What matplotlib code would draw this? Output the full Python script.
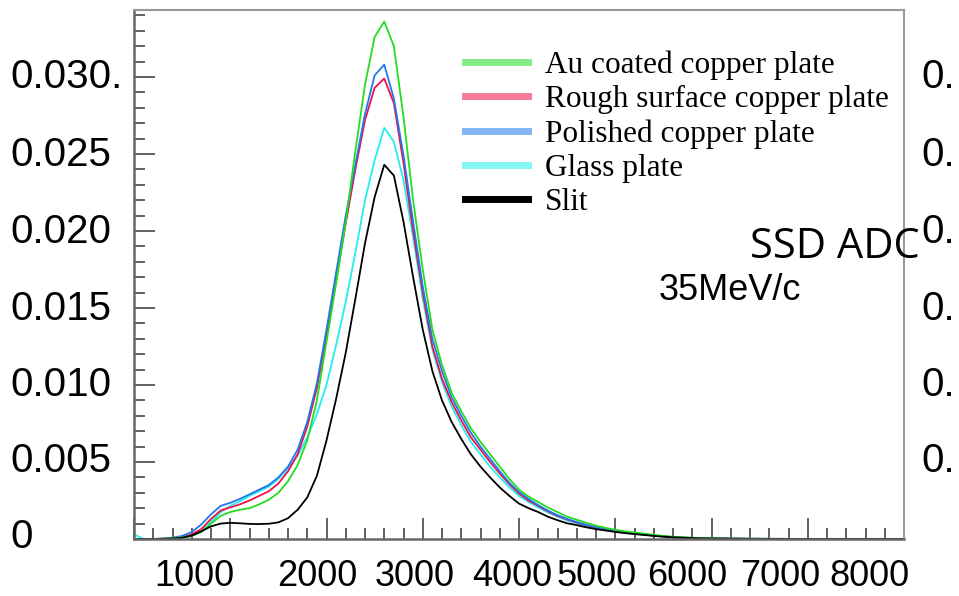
import numpy as np
import matplotlib
matplotlib.use("Agg")
import matplotlib.pyplot as plt
from matplotlib.lines import Line2D
from matplotlib.ticker import MultipleLocator

# SSD ADC spectra, 35 MeV/c, normalised (values in units of 1e-3)
adc = np.arange(0, 8001, 100)

au_coated = [0, 0, 0, 0.02, 0.05, 0.1, 0.2, 0.45, 1.0, 1.5,
             1.75, 1.9, 2.0, 2.25, 2.55, 3.0, 3.75, 4.8, 6.4, 9.0,
             12.8, 16.6, 20.6, 25.2, 29.5, 32.6, 33.6, 32.0, 27.4, 22.0,
             17.5, 13.6, 11.3, 9.5, 8.3, 7.2, 6.3, 5.5, 4.7, 3.9,
             3.2, 2.75, 2.4, 2.05, 1.75, 1.45, 1.25, 1.05, 0.87, 0.72,
             0.6, 0.5, 0.42, 0.35, 0.27, 0.2, 0.15, 0.11, 0.08, 0.06,
             0.05, 0.04, 0.03, 0.02, 0.02, 0.015, 0.01, 0.01, 0.01, 0.005,
             0, 0, 0, 0, 0, 0, 0, 0, 0, 0, 0]
rough = [0, 0, 0, 0.02, 0.06, 0.12, 0.3, 0.65, 1.3, 1.85,
         2.05, 2.25, 2.5, 2.8, 3.1, 3.6, 4.4, 5.5, 7.3, 9.8,
         13.2, 16.8, 20.5, 24.0, 27.2, 29.3, 29.9, 28.3, 24.4, 20.0,
         16.0, 12.5, 10.4, 8.9, 7.7, 6.6, 5.8, 5.0, 4.25, 3.55,
         2.95, 2.5, 2.15, 1.8, 1.5, 1.27, 1.07, 0.9, 0.75, 0.62,
         0.52, 0.43, 0.36, 0.3, 0.23, 0.17, 0.12, 0.09, 0.07, 0.05,
         0.04, 0.03, 0.025, 0.02, 0.015, 0.01, 0.01, 0.01, 0.005, 0.005,
         0, 0, 0, 0, 0, 0, 0, 0, 0, 0, 0]
polished = [0, 0, 0, 0.03, 0.08, 0.2, 0.45, 0.95, 1.6, 2.15,
            2.35, 2.6, 2.9, 3.2, 3.5, 4.0, 4.7, 5.8, 7.6, 10.1,
            13.6, 17.3, 21.0, 24.3, 27.6, 30.1, 30.8, 28.6, 24.9, 20.6,
            16.4, 13.0, 10.9, 9.2, 8.0, 6.9, 6.0, 5.2, 4.4, 3.65,
            3.05, 2.6, 2.2, 1.85, 1.55, 1.3, 1.1, 0.92, 0.77, 0.64,
            0.53, 0.44, 0.37, 0.3, 0.23, 0.17, 0.12, 0.09, 0.07, 0.05,
            0.04, 0.03, 0.025, 0.02, 0.015, 0.01, 0.01, 0.01, 0.005, 0.005,
            0, 0, 0, 0, 0, 0, 0, 0, 0, 0, 0]
glass = [0.3, 0, 0, 0.01, 0.03, 0.08, 0.2, 0.5, 1.1, 1.75,
         2.15, 2.45, 2.8, 3.1, 3.4, 3.9, 4.6, 5.4, 6.6, 8.1,
         10.0, 12.6, 15.4, 18.6, 22.0, 24.6, 26.7, 25.8, 23.3, 19.6,
         15.6, 12.3, 10.2, 8.6, 7.4, 6.3, 5.5, 4.7, 4.0, 3.35,
         2.8, 2.4, 2.05, 1.72, 1.45, 1.2, 1.02, 0.86, 0.72, 0.6,
         0.5, 0.41, 0.34, 0.28, 0.21, 0.16, 0.11, 0.08, 0.06, 0.045,
         0.035, 0.03, 0.02, 0.02, 0.015, 0.01, 0.01, 0.005, 0.005, 0.005,
         0, 0, 0, 0, 0, 0, 0, 0, 0, 0, 0]
slit = [0, 0, 0, 0.01, 0.03, 0.08, 0.22, 0.5, 0.82, 1.0,
        1.05, 1.02, 0.98, 0.97, 0.99, 1.08, 1.35, 1.9, 2.7, 4.1,
        6.4, 9.1, 12.1, 15.6, 19.2, 22.2, 24.3, 23.6, 20.6, 17.0,
        13.6, 10.9, 9.0, 7.6, 6.5, 5.5, 4.7, 4.0, 3.35, 2.8,
        2.3, 2.0, 1.75, 1.45, 1.22, 1.02, 0.9, 0.76, 0.64, 0.55,
        0.46, 0.38, 0.32, 0.26, 0.2, 0.15, 0.11, 0.08, 0.06, 0.04,
        0.03, 0.025, 0.02, 0.015, 0.01, 0.01, 0.005, 0.005, 0.005, 0.005,
        0, 0, 0, 0, 0, 0, 0, 0, 0, 0, 0]

labels = ["Au coated copper plate", "Rough surface copper plate",
          "Polished copper plate", "Glass plate", "Slit"]
colors = ["#22dd22", "#ee1144", "#2277ee", "#22eeee", "#000000"]
series = [au_coated, rough, polished, glass, slit]

ytick_text = ["0.030.", "0.025", "0.020", "0.015", "0.010", "0.005", "0"]
xtick_text = ["1000", "2000", "3000", "4000", "5000", "6000", "7000", "8000"]

W, H = 959, 596
fig = plt.figure(figsize=(W / 100, H / 100), dpi=100)
ax = fig.add_axes([134 / W, 1 - 539 / H, (904 - 134) / W, (539 - 10) / H])

# draw order: glass, rough, polished, green, slit
for i in [3, 1, 2, 0, 4]:
    ax.plot(adc, np.array(series[i]) * 1e-3, color=colors[i], lw=1.3)

ax.set_xlim(0, 8000)
ax.set_ylim(0, 0.03435)
ax.xaxis.set_major_locator(MultipleLocator(1000))
ax.xaxis.set_minor_locator(MultipleLocator(200))
ax.yaxis.set_major_locator(MultipleLocator(0.005))
ax.yaxis.set_minor_locator(MultipleLocator(0.001))
ax.tick_params(which="both", direction="in", colors="#555555",
               labelbottom=False, labelleft=False, width=1.3)
ax.tick_params(which="major", length=15)
ax.tick_params(which="minor", length=8)
for s in ["top", "right"]:
    ax.spines[s].set_color("#999999")
    ax.spines[s].set_linewidth(1.5)
for s in ["left", "bottom"]:
    ax.spines[s].set_color("#666666")
    ax.spines[s].set_linewidth(1.8)

# legend (light thick swatches like the ROOT legend)
handles = [Line2D([], [], color=c, lw=5, alpha=0.55 if c != "#000000" else 1)
           for c in colors]
leg = fig.legend(handles, labels, loc="upper left",
                 bbox_to_anchor=(465 / W, 1 - 50 / H), frameon=False,
                 prop={"family": "Liberation Serif", "size": 22.5},
                 handlelength=2.0, handletextpad=0.55, labelspacing=0.17,
                 borderaxespad=0, borderpad=0)

# axis numbers pasted on the slide
sans = "Liberation Sans"
ypix = [77, 155, 232, 309, 385, 461, 537]
for t, yp in zip(ytick_text, ypix):
    fig.text(10 / W, 1 - yp / H, t, family=sans, fontsize=29,
             ha="left", va="center")
for yp in ypix[:-1]:
    fig.text(921 / W, 1 - yp / H, "0.", family=sans, fontsize=29,
             ha="left", va="center")
xpix = [194, 317, 415, 512, 597, 687, 780, 869]
for t, xp in zip(xtick_text, xpix):
    fig.text(xp / W, 1 - 577 / H, t, family=sans, fontsize=26,
             ha="center", va="center")

fig.text(835 / W, 1 - 247 / H, "SSD ADC", family="Open Sans", fontsize=30,
         ha="center", va="center")
fig.text(730 / W, 1 - 290 / H, "35MeV/c", family=sans, fontsize=26,
         ha="center", va="center")

fig.savefig("out.png", dpi=100)
